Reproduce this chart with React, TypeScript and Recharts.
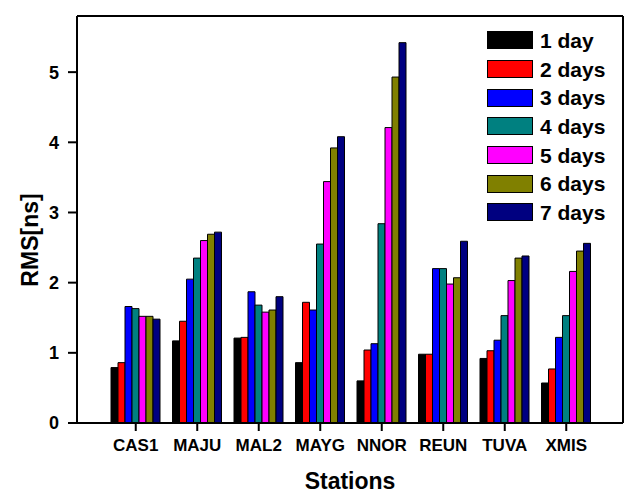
import React from 'react';
import { BarChart, Bar, XAxis, YAxis, ReferenceLine } from 'recharts';

const stations = ['CAS1', 'MAJU', 'MAL2', 'MAYG', 'NNOR', 'REUN', 'TUVA', 'XMIS'];

const day1 = [0.79, 1.17, 1.21, 0.86, 0.6, 0.98, 0.92, 0.57];
const day2 = [0.86, 1.45, 1.22, 1.72, 1.04, 0.98, 1.03, 0.77];
const day3 = [1.66, 2.05, 1.87, 1.61, 1.13, 2.2, 1.18, 1.22];
const day4 = [1.63, 2.35, 1.68, 2.55, 2.84, 2.2, 1.53, 1.53];
const day5 = [1.52, 2.6, 1.58, 3.44, 4.21, 1.98, 2.03, 2.16];
const day6 = [1.52, 2.69, 1.61, 3.92, 4.93, 2.07, 2.35, 2.45];
const day7 = [1.48, 2.72, 1.8, 4.08, 5.42, 2.59, 2.38, 2.56];

const seriesNames = ['1 day', '2 days', '3 days', '4 days', '5 days', '6 days', '7 days'];
const seriesColors = ['#000000', '#ff0000', '#0000ff', '#008080', '#ff00ff', '#808000', '#000080'];
const yTicks = [0, 1, 2, 3, 4, 5];

const allSeries = [day1, day2, day3, day4, day5, day6, day7];

const data = stations.map((s, i) => {
  const row: any = { station: s };
  allSeries.forEach((vals, k) => {
    row[`d${k + 1}`] = vals[i];
  });
  return row;
});

const FONT = '"Liberation Sans", Arial, sans-serif';

// legend drawn as an overlay so it does not eat plot space
const ChartLegend = () => (
  <div
    style={{
      position: 'absolute',
      left: 487,
      top: 26,
      fontFamily: FONT,
      fontWeight: 'bold',
      fontSize: 21,
      color: '#000',
      lineHeight: 1,
    }}
  >
    {seriesNames.map((name, i) => (
      <div key={name} style={{ display: 'flex', alignItems: 'center', height: 28.7 }}>
        <div
          style={{
            width: 44,
            height: 16,
            background: seriesColors[i],
            border: '1px solid #000',
            marginRight: 7,
          }}
        />
        <span>{name}</span>
      </div>
    ))}
  </div>
);

const App = () => {
  const pad = { left: 28, right: 26 };
  return (
    <div style={{ position: 'absolute', left: 0, top: 0, width: 626, height: 495, background: '#fff' }}>
      <BarChart
        width={626}
        height={495}
        data={data}
        margin={{ top: 16, right: 0, bottom: 0, left: 0 }}
        barCategoryGap={6}
        barGap={0}
      >
        <XAxis
          dataKey="station"
          height={72}
          padding={pad}
          tickSize={8}
          tickMargin={8}
          axisLine={{ stroke: '#000', strokeWidth: 2 }}
          tickLine={{ stroke: '#000', strokeWidth: 2 }}
          tick={{ fill: '#000', fontSize: 17, fontWeight: 'bold', fontFamily: FONT }}
          label={{
            value: 'Stations',
            position: 'insideBottom',
            offset: 6,
            style: { fill: '#000', fontSize: 23, fontWeight: 'bold', fontFamily: FONT },
          }}
        />
        <XAxis
          xAxisId="top"
          orientation="top"
          dataKey="station"
          height={0}
          padding={pad}
          tickSize={7}
          tick={false}
          axisLine={{ stroke: '#000', strokeWidth: 2 }}
          tickLine={{ stroke: '#000', strokeWidth: 2 }}
        />
        <YAxis
          width={77}
          domain={[0, 5.8]}
          ticks={yTicks}
          tickSize={9}
          tickMargin={9}
          axisLine={{ stroke: '#000', strokeWidth: 2 }}
          tickLine={{ stroke: '#000', strokeWidth: 2 }}
          tick={{ fill: '#000', fontSize: 18, fontWeight: 'bold', fontFamily: FONT }}
          label={{
            content: () => (
              <text
                x={30}
                y={240}
                transform="rotate(-90, 30, 240)"
                textAnchor="middle"
                dominantBaseline="central"
                fill="#000"
                fontSize={23}
                fontWeight="bold"
                fontFamily={FONT}
              >
                RMS[ns]
              </text>
            ),
          }}
        />
        <YAxis
          yAxisId="right"
          orientation="right"
          width={3}
          domain={[0, 5.8]}
          ticks={yTicks}
          tickSize={7}
          tick={false}
          axisLine={{ stroke: '#000', strokeWidth: 2 }}
          tickLine={{ stroke: '#000', strokeWidth: 2 }}
        />
        <ReferenceLine y={5.8} stroke="#000" strokeWidth={2} />
        {seriesNames.map((name, i) => (
          <Bar
            key={name}
            name={name}
            dataKey={`d${i + 1}`}
            fill={seriesColors[i]}
            stroke="#000"
            strokeWidth={1}
            isAnimationActive={false}
          />
        ))}
      </BarChart>
      <ChartLegend />
    </div>
  );
};

export default App;
